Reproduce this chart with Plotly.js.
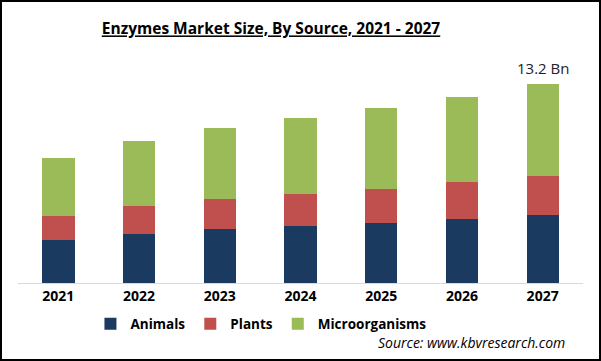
<!DOCTYPE html>
<html>
<head>
<meta charset="utf-8">
<script src="https://cdn.plot.ly/plotly-3.0.1.min.js"></script>
<style>
  html, body { margin: 0; padding: 0; background: #fff; }
  #wrap { position: relative; width: 601px; height: 361px; }
  #chart { width: 601px; height: 361px; }
  #frame { position: absolute; left: 0; top: 0; width: 601px; height: 361px; box-sizing: border-box; border: 2px solid #000; pointer-events: none; }
</style>
</head>
<body>
<div id="wrap">
  <div id="chart"></div>
  <div id="frame"></div>
</div>
<script>
const years = ["2021", "2022", "2023", "2024", "2025", "2026", "2027"];
const animals = [2.85, 3.25, 3.58, 3.78, 3.98, 4.24, 4.51];
const plants = [1.59, 1.86, 1.99, 2.12, 2.25, 2.45, 2.59];
const microorganisms = [3.85, 4.31, 4.71, 5.04, 5.37, 5.64, 6.10];
const totalLabel = "13.2 Bn";
const totalLabelYear = "2027";
const totalLabelValue = 13.2;

const traces = [
  { type: "bar", name: "Animals", x: years, y: animals, marker: { color: "#1b3a5f" } },
  { type: "bar", name: "Plants", x: years, y: plants, marker: { color: "#c0504d" } },
  { type: "bar", name: "Microorganisms", x: years, y: microorganisms, marker: { color: "#9bbb59" } }
];

const layout = {
  width: 601,
  height: 361,
  barmode: "stack",
  bargap: 0.6,
  paper_bgcolor: "#fff",
  plot_bgcolor: "#fff",
  margin: { l: 18, r: 18, t: 60, b: 78 },
  font: { family: "Open Sans, sans-serif", color: "#000" },
  title: {
    text: "<b><u>Enzymes Market Size, By Source, 2021 - 2027</u></b>",
    font: { size: 15.5, color: "#000", family: "Open Sans, sans-serif" },
    xref: "container", yref: "container",
    x: 271 / 601, y: 1 - 29 / 361, xanchor: "center", yanchor: "middle"
  },
  xaxis: {
    type: "category",
    range: [-0.5, years.length - 0.5],
    showline: true, linecolor: "#d9d9d9", linewidth: 1,
    ticks: "", showgrid: false, zeroline: false,
    tickfont: { size: 14, color: "#000", family: "Open Sans, sans-serif", weight: "bold" }
  },
  yaxis: {
    range: [0, 14.79], showgrid: false, zeroline: false,
    showticklabels: false, showline: false, ticks: ""
  },
  showlegend: true,
  legend: {
    orientation: "h",
    x: 0.43, y: -0.184, xanchor: "center", yanchor: "middle",
    font: { size: 13.5, color: "#000", family: "Open Sans, sans-serif", weight: "bold" },
    itemwidth: 30, traceorder: "normal"
  },
  annotations: [
    {
      x: years.indexOf(totalLabelYear), y: totalLabelValue, xref: "x", yref: "y",
      text: totalLabel, showarrow: false, yanchor: "bottom", yshift: 4,
      font: { size: 15, color: "#222", family: "Open Sans, sans-serif" }
    },
    {
      x: 0.972, y: -0.269, xref: "paper", yref: "paper",
      xanchor: "right", yanchor: "middle",
      text: "<i>Source: www.kbvresearch.com</i>", showarrow: false,
      font: { size: 14, color: "#000", family: "Open Sans, sans-serif" }
    }
  ]
};

Plotly.newPlot("chart", traces, layout, { displayModeBar: false, staticPlot: true });
</script>
</body>
</html>
